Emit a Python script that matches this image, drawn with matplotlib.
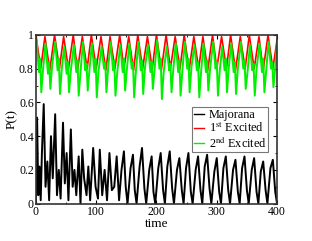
import numpy as np
import matplotlib
matplotlib.use("Agg")
import matplotlib.pyplot as plt
from matplotlib.ticker import MultipleLocator

plt.rcParams['font.family'] = ['Liberation Serif', 'DejaVu Serif']
plt.rcParams['mathtext.fontset'] = 'stix'

# 1st excited : peaks and troughs
red_peak_t = [0, 15, 31, 46, 62, 77, 92, 108, 123, 139, 154, 169, 185, 200, 216, 231, 246, 262, 277, 293, 308, 323, 339, 354, 370, 385, 400]
red_peak_v = [1.0, 0.99, 1.0, 0.99, 1.0, 0.99, 1.0, 0.99, 0.99, 1.0, 0.99, 1.0, 0.99, 1.0, 1.0, 0.99, 1.0, 0.99, 0.99, 1.0, 0.99, 1.0, 0.99, 1.0, 0.99, 1.0, 0.97]
red_low_t = [8, 23, 39, 54, 69, 85, 100, 116, 131, 146, 162, 177, 193, 208, 223, 239, 254, 270, 285, 300, 316, 331, 347, 362, 377, 393]
red_low_v = [0.80, 0.79, 0.80, 0.80, 0.79, 0.80, 0.80, 0.79, 0.80, 0.80, 0.79, 0.80, 0.80, 0.79, 0.80, 0.80, 0.79, 0.80, 0.79, 0.80, 0.80, 0.79, 0.80, 0.80, 0.79, 0.80]

# 2nd excited : one line per cycle (peak, shoulder, bump, trough, rise)
grn_t = [0,
         1, 5, 7, 9, 12,
         16, 20, 22, 24, 27,
         32, 36, 38, 40, 43,
         47, 51, 53, 55, 58,
         63, 67, 69, 71, 74,
         78, 82, 84, 86, 89,
         93, 97, 99, 101, 104,
         109, 113, 115, 117, 120,
         124, 128, 130, 132, 135,
         140, 144, 146, 148, 151,
         155, 159, 161, 163, 166,
         170, 174, 176, 178, 181,
         186, 190, 192, 194, 197,
         201, 205, 207, 209, 212,
         217, 221, 223, 225, 228,
         232, 236, 238, 240, 243,
         247, 251, 253, 255, 258,
         263, 267, 269, 271, 274,
         278, 282, 284, 286, 289,
         294, 298, 300, 302, 305,
         309, 313, 315, 317, 320,
         324, 328, 330, 332, 335,
         340, 344, 346, 348, 351,
         355, 359, 361, 363, 366,
         371, 375, 377, 379, 382,
         386, 390, 392, 394, 397,
         400]
grn_v = [0.90,
         0.97, 0.78, 0.86, 0.66, 0.80,
         0.95, 0.77, 0.84, 0.68, 0.82,
         0.96, 0.79, 0.86, 0.65, 0.80,
         0.93, 0.77, 0.84, 0.66, 0.79,
         0.94, 0.78, 0.85, 0.64, 0.78,
         0.96, 0.79, 0.83, 0.67, 0.80,
         0.95, 0.78, 0.86, 0.63, 0.79,
         0.93, 0.80, 0.84, 0.66, 0.81,
         0.96, 0.79, 0.85, 0.64, 0.78,
         0.94, 0.78, 0.86, 0.67, 0.80,
         0.95, 0.80, 0.84, 0.63, 0.79,
         0.96, 0.79, 0.85, 0.65, 0.81,
         0.94, 0.78, 0.84, 0.68, 0.80,
         0.97, 0.80, 0.86, 0.62, 0.78,
         0.93, 0.79, 0.83, 0.66, 0.80,
         0.95, 0.78, 0.85, 0.64, 0.79,
         0.96, 0.80, 0.86, 0.66, 0.81,
         0.94, 0.79, 0.84, 0.63, 0.78,
         0.95, 0.78, 0.85, 0.67, 0.80,
         0.96, 0.80, 0.84, 0.64, 0.79,
         0.93, 0.79, 0.86, 0.66, 0.81,
         0.95, 0.78, 0.84, 0.65, 0.80,
         0.96, 0.80, 0.85, 0.68, 0.78,
         0.94, 0.79, 0.83, 0.64, 0.80,
         0.95, 0.78, 0.86, 0.66, 0.79,
         0.96, 0.80, 0.84, 0.69, 0.81,
         0.95]

# Majorana : irregular at first, then a steady oscillation
blk_t = [0, 2, 4, 6, 8, 10, 13, 16, 19, 22, 25, 28, 32, 35, 38,
         41, 45, 48, 51, 54, 58, 61, 64, 67, 71, 74, 77, 80, 84, 87,
         90, 95, 99, 103, 106, 110, 114, 118, 122, 126, 130, 134, 138,
         142, 146, 149, 152,
         157, 161, 164, 167,
         172, 176, 180, 183,
         188, 192, 195, 198,
         203, 207, 211, 214,
         218, 222, 226, 229,
         234, 238, 242, 245,
         249, 253, 257, 260,
         265, 269, 273, 276,
         280, 284, 288, 291,
         296, 300, 304, 307,
         311, 315, 319, 322,
         327, 331, 335, 338,
         342, 346, 350, 353,
         358, 362, 366, 369,
         373, 377, 381, 384,
         389, 393, 397, 400]
blk_v = [0.0, 0.51, 0.05, 0.22, 0.02, 0.30, 0.59, 0.10, 0.25, 0.02, 0.40, 0.15, 0.53, 0.05, 0.20,
         0.03, 0.48, 0.12, 0.30, 0.02, 0.44, 0.10, 0.20, 0.05, 0.28, 0.0, 0.32, 0.15, 0.05, 0.22,
         0.02, 0.33, 0.10, 0.03, 0.32, 0.05, 0.20, 0.02, 0.30, 0.08, 0.10, 0.28, 0.02,
         0.20, 0.31, 0.10, 0.0,
         0.21, 0.29, 0.08, 0.0,
         0.22, 0.33, 0.09, 0.0,
         0.20, 0.28, 0.07, 0.0,
         0.21, 0.30, 0.08, 0.0,
         0.22, 0.31, 0.09, 0.0,
         0.20, 0.27, 0.08, 0.0,
         0.21, 0.30, 0.07, 0.0,
         0.20, 0.28, 0.08, 0.0,
         0.22, 0.29, 0.09, 0.0,
         0.19, 0.27, 0.07, 0.0,
         0.21, 0.28, 0.08, 0.0,
         0.20, 0.26, 0.07, 0.0,
         0.21, 0.28, 0.08, 0.0,
         0.20, 0.27, 0.07, 0.0,
         0.19, 0.25, 0.08, 0.0,
         0.21, 0.26, 0.07, 0.0]


def merge(ta, va, tb, vb):
    t = np.concatenate([ta, tb])
    v = np.concatenate([va, vb])
    o = np.argsort(t, kind='stable')
    return t[o], v[o]


red_t, red_v = merge(red_peak_t, red_peak_v, red_low_t, red_low_v)

fig = plt.figure(figsize=(3.12, 2.41), dpi=100)
ax = fig.add_axes([0.115, 0.155, 0.773, 0.70])

ax.plot(blk_t, blk_v, color='black', lw=1.4, label='Majorana')
ax.plot(red_t, red_v, color='#ff0000', lw=1.2, label=r'1$^{\rm st}$ Excited')
ax.plot(grn_t, grn_v, color='#00f000', lw=1.4, label=r'2$^{\rm nd}$ Excited')

ax.set_xlim(0, 400)
ax.set_ylim(0, 1)
ax.xaxis.set_major_locator(MultipleLocator(100))
ax.xaxis.set_minor_locator(MultipleLocator(50))
ax.yaxis.set_minor_locator(MultipleLocator(0.1))
ax.set_yticks([0, 0.2, 0.4, 0.6, 0.8, 1.0])
ax.set_yticklabels(['0', '0.2', '0.4', '0.6', '0.8', '1'])
ax.tick_params(which='both', direction='in', top=True, right=True, labelsize=8.5, pad=1.5)
ax.tick_params(which='major', length=3)
ax.tick_params(which='minor', length=1.5)
for s in ax.spines.values():
    s.set_linewidth(1.2)
    s.set_color('#333333')

ax.set_xlabel('time', fontsize=9.5, labelpad=0)
ax.set_ylabel('P(t)', fontsize=9.5, labelpad=1)

leg = ax.legend(loc='upper right', bbox_to_anchor=(0.963, 0.572), fontsize=8.8,
                frameon=True, fancybox=False, edgecolor='#555555', handlelength=0.8,
                handletextpad=0.4, borderpad=0.15, labelspacing=0.02, borderaxespad=0.0)
leg.get_frame().set_linewidth(0.8)
for line in leg.get_lines():
    line.set_linewidth(1.0)

fig.savefig('out.png', dpi=100)
